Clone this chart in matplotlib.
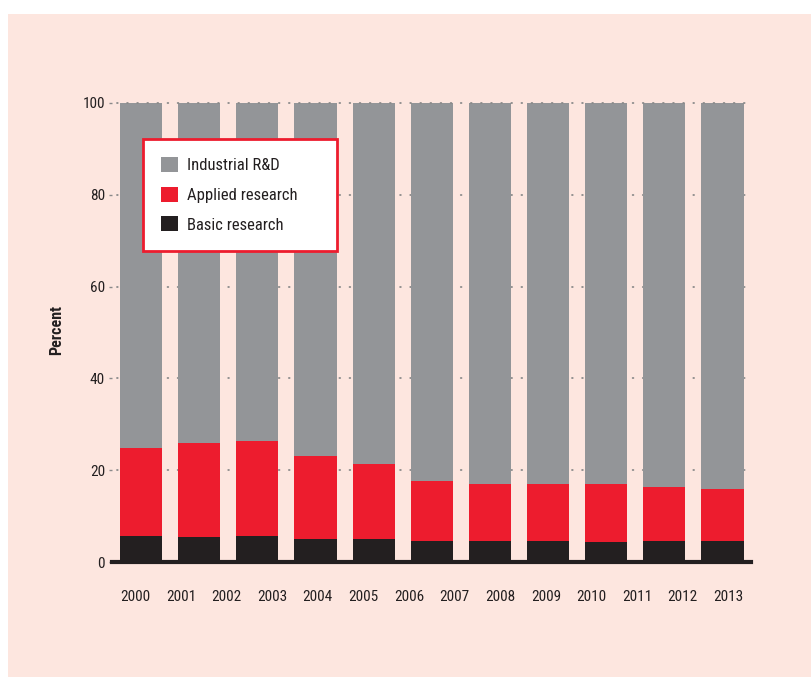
import matplotlib
matplotlib.use("Agg")
import matplotlib.pyplot as plt
import numpy as np
from matplotlib import font_manager
from matplotlib.patches import Patch, Rectangle

# ---- data ----
bar_labels = ["2000", "2001", "2002", "2003", "2004", "2005", "2006", "2007", "2008", "2009", "2010"]
basic = [5.6, 5.4, 5.6, 5.0, 5.0, 4.6, 4.6, 4.6, 4.4, 4.6, 4.6]
applied_top = [24.8, 25.9, 26.3, 23.0, 21.3, 17.7, 17.1, 17.1, 17.1, 16.4, 16.0]
applied = [a - b for a, b in zip(applied_top, basic)]
industrial = [100 - a for a in applied_top]
year_ticks = ["2000", "2001", "2002", "2003", "2004", "2005", "2006",
              "2007", "2008", "2009", "2010", "2011", "2012", "2013"]
yticks = [0, 20, 40, 60, 80, 100]
series_names = ["Industrial R&D", "Applied research", "Basic research"]

GRAY = "#939598"
RED = "#ED1C2E"
BLACK = "#231F20"
BG = "#FDE6DF"

names = {f.name for f in font_manager.fontManager.ttflist}
fam = "DejaVu Sans"
stretch = "condensed"
for cand in ["Liberation Sans Narrow", "Roboto Condensed", "Open Sans Condensed"]:
    if cand in names:
        fam = cand
        break
plt.rcParams["font.family"] = [fam, "DejaVu Sans"]
plt.rcParams["font.stretch"] = stretch

W, H = 812, 677
fig = plt.figure(figsize=(W / 100, H / 100), dpi=100)
fig.patch.set_facecolor("white")
fig.patches.append(Rectangle((8 / W, 0), 1 - 8 / W, 1 - 14 / H, transform=fig.transFigure,
                             facecolor=BG, edgecolor="none", zorder=-10))

x0, x1 = 112, 751
ytop, ybot = 103, 562
ax = fig.add_axes([x0 / W, (H - ybot) / H, (x1 - x0) / W, (ybot - ytop) / H])
ax.set_facecolor("none")

x = np.arange(len(bar_labels))
w = 0.723
ax.bar(x, basic, w, color=BLACK, zorder=2)
ax.bar(x, applied, w, bottom=basic, color=RED, zorder=2)
ax.bar(x, industrial, w, bottom=applied_top, color=GRAY, zorder=2)

ax.set_xlim(-0.5, 10.49)
ax.set_ylim(0, 100)

for yv in yticks[1:]:
    ax.plot([-0.41, 10.41], [yv, yv], linestyle=(0, (0.4, 5.2)), color="#8a8a8a",
            lw=1.3, zorder=3 if yv == 100 else 1, clip_on=False, dash_capstyle="round")

ax.axhline(0, color=BLACK, lw=3, zorder=4, clip_on=False)

for s in ax.spines.values():
    s.set_visible(False)

ax.set_yticks(yticks)
ax.set_yticklabels([str(v) for v in yticks], fontsize=11, color=BLACK)
ax.tick_params(axis="y", length=2, width=1, color="#8a8a8a", pad=3)
ax.set_xticks(np.linspace(-0.1, 10.1, len(year_ticks)))
ax.set_xticklabels(year_ticks, fontsize=11, color=BLACK)
ax.tick_params(axis="x", length=0, pad=20)

fig.text(57 / W, 1 - 330 / H, "Percent", rotation=90, ha="center", va="center",
         fontsize=11.5, fontweight="bold", color=BLACK)

handles = [Patch(facecolor=GRAY), Patch(facecolor=RED), Patch(facecolor=BLACK)]
leg = fig.legend(handles, series_names, loc="upper left",
                 bbox_to_anchor=(143 / W, 1 - 250 / H, 194 / W, 111 / H),
                 bbox_transform=fig.transFigure, mode="expand",
                 fontsize=12, frameon=True, fancybox=False, handlelength=1.0,
                 handleheight=1.0, handletextpad=0.55, labelspacing=0.8,
                 borderpad=1.1, borderaxespad=0)
leg.get_frame().set_edgecolor(RED)
leg.get_frame().set_linewidth(2)
leg.get_frame().set_facecolor("white")
leg.get_frame().set_alpha(1)
for t in leg.get_texts():
    t.set_color(BLACK)

fig.savefig("out.png", dpi=100, facecolor=fig.get_facecolor())
